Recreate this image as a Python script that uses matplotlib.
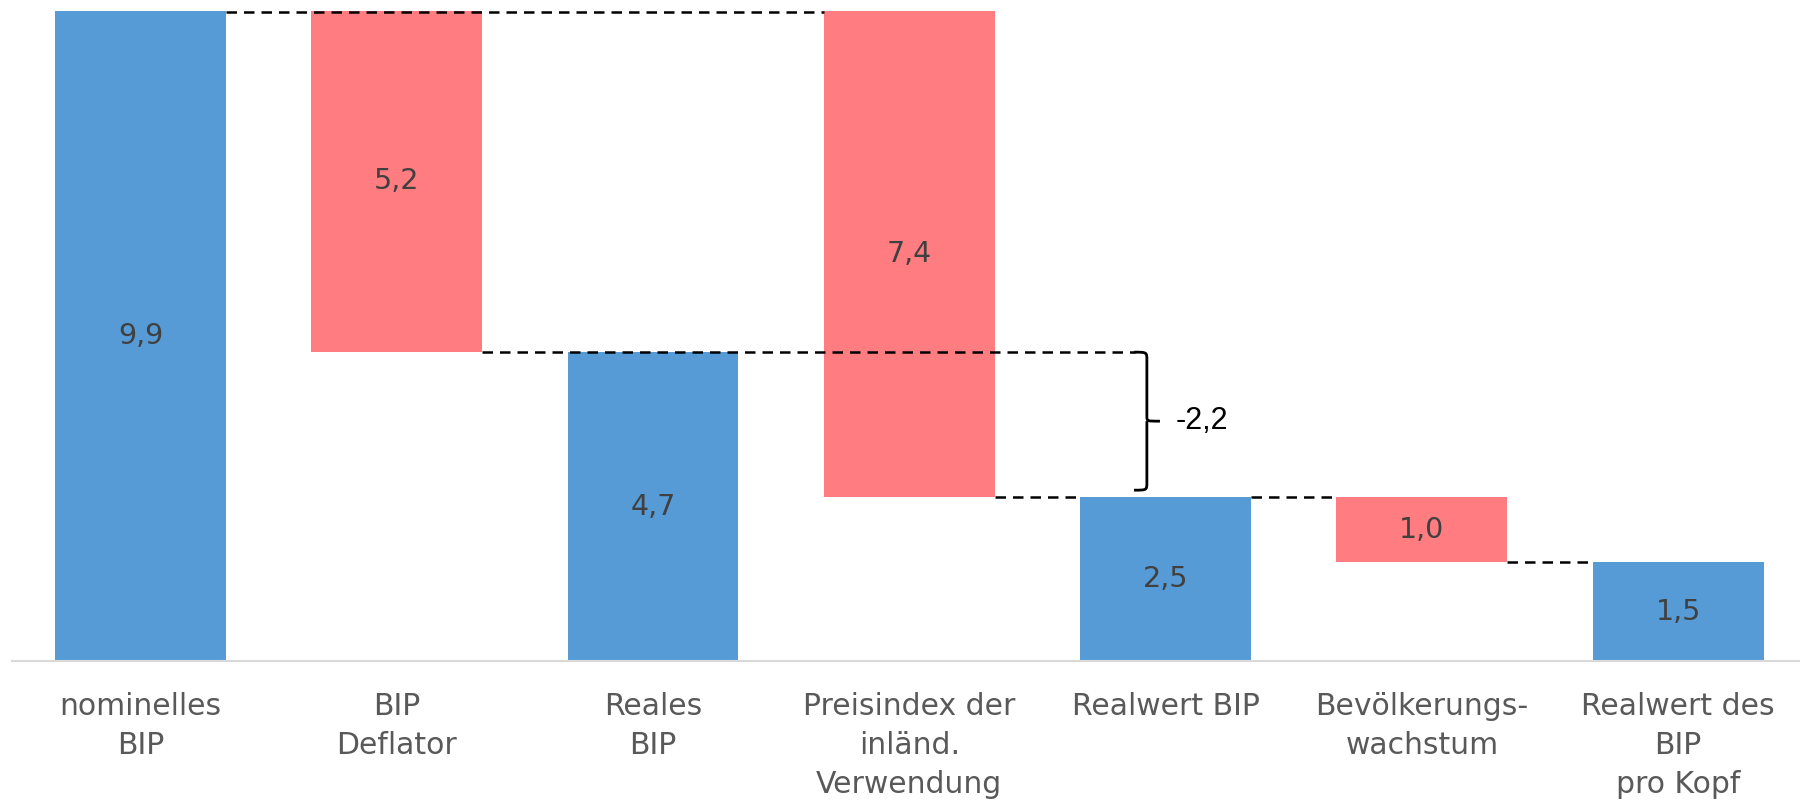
import matplotlib
matplotlib.use("Agg")
import matplotlib.pyplot as plt
from matplotlib.path import Path
from matplotlib.patches import PathPatch

plt.rcParams['font.family'] = ['DejaVu Sans']

categories = ["nominelles\nBIP", "BIP\nDeflator", "Reales\nBIP",
              "Preisindex der\ninländ.\nVerwendung", "Realwert BIP",
              "Bevölkerungs-\nwachstum", "Realwert des\nBIP\npro Kopf"]
# kind: 't' = total bar from 0, 'd' = decrease hanging from previous level
kinds = ['t', 'd', 't', 'd', 't', 'd', 't']
values = [9.9, 5.2, 4.7, 7.4, 2.5, 1.0, 1.5]
# start level (top) for decrease bars
starts = [None, 9.9, None, 9.9, None, 2.5, None]
bracket_diff = -2.2

blue = "#569BD5"
red = "#FF7C80"

fig = plt.figure(figsize=(18, 8.02), dpi=100)
ax = fig.add_axes([12.3 / 1800, 141 / 802, 1794 / 1800, 650.5 / 802])

bottoms, heights, colors = [], [], []
for k, v, s in zip(kinds, values, starts):
    if k == 't':
        bottoms.append(0); heights.append(v); colors.append(blue)
    else:
        bottoms.append(s - v); heights.append(v); colors.append(red)

x = list(range(len(categories)))
w = 0.667
ax.bar(x, heights, bottom=bottoms, width=w, color=colors, edgecolor='none', zorder=2)

for xi, b, h in zip(x, bottoms, heights):
    ax.text(xi, b + h / 2, f"{h:.1f}".replace('.', ','), ha='center', va='center',
            fontsize=20.5, color='#404040', zorder=4)

dash_kw = dict(color='black', lw=1.8, dashes=(4.2, 2.8), zorder=3, clip_on=False)
hw = w / 2
# top level 9.9 from bar0 right to bar3 left
ax.plot([0 + hw, 3 - hw], [values[0] - 0.03, values[0] - 0.03], **dash_kw)
# level real BIP from bar1 right to bracket
ax.plot([1 + hw, 3.88], [values[2], values[2]], **dash_kw)
# level 2.5
ax.plot([3 + hw, 4 - hw], [values[4], values[4]], **dash_kw)
ax.plot([4 + hw, 5 - hw], [values[4], values[4]], **dash_kw)
# level 1.5
ax.plot([5 + hw, 6 - hw], [values[6], values[6]], **dash_kw)

# curly bracket
y_top = values[2]
y_bot = values[4] + 0.1
y_mid = (y_top + y_bot) / 2
xl, xv, xt = 3.877, 3.927, 3.978
r = 0.12
verts = [(xl, y_top), (xv, y_top), (xv, y_top), (xv, y_top - r),
         (xv, y_mid + r * 0.6),
         (xv, y_mid), (xv, y_mid), (xt, y_mid),
         (xv, y_mid), (xv, y_mid), (xv, y_mid - r * 0.6),
         (xv, y_bot + r),
         (xv, y_bot), (xv, y_bot), (xl, y_bot)]
codes = [Path.MOVETO, Path.CURVE4, Path.CURVE4, Path.CURVE4,
         Path.LINETO,
         Path.CURVE4, Path.CURVE4, Path.CURVE4,
         Path.MOVETO, Path.CURVE4, Path.CURVE4,
         Path.LINETO,
         Path.CURVE4, Path.CURVE4, Path.CURVE4]
ax.add_patch(PathPatch(Path(verts, codes), fill=False, lw=2, color='black', zorder=3,
                       capstyle='butt'))
ax.text(4.04, y_mid, f"{bracket_diff:.1f}".replace('.', ','), ha='left', va='center',
        fontsize=22, color='black', family=['Liberation Sans', 'DejaVu Sans'])

ax.set_xlim(-0.5, 6.5)
ax.set_ylim(0, 9.9)
ax.set_xticks(x)
ax.set_xticklabels(categories, fontsize=21.5, color='#595959', linespacing=1.45)
ax.tick_params(axis='x', length=0, pad=22)
ax.set_yticks([])
for s in ['top', 'right', 'left']:
    ax.spines[s].set_visible(False)
ax.spines['bottom'].set_color('#D9D9D9')
ax.spines['bottom'].set_linewidth(1.5)
ax.spines['bottom'].set_zorder(5)

fig.savefig("out.png", dpi=100)
